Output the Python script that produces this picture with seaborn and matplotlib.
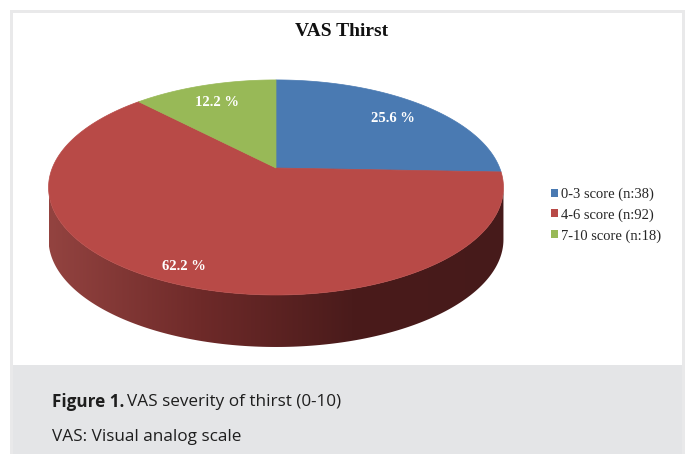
import numpy as np
import matplotlib
matplotlib.use("Agg")
import matplotlib.pyplot as plt
import seaborn as sns
from matplotlib.patches import Polygon, Rectangle, Patch
from matplotlib.colors import LinearSegmentedColormap

# data
categories = ["0-3 score (n:38)", "4-6 score (n:92)", "7-10 score (n:18)"]
percents = [25.6, 62.2, 12.2]
pct_labels = ["25.6 %", "62.2 %", "12.2 %"]
title = "VAS Thirst"

sns.set_theme(style="white")
plt.rcParams['font.family'] = ['Liberation Serif', 'DejaVu Serif']

slice_colors = ["#4a7ab2", "#b84a47", "#98b957"]

fig = plt.figure(figsize=(6.88, 4.54), dpi=100)
ax = fig.add_axes([0, 0, 1, 1])
ax.set_xlim(0, 688)
ax.set_ylim(454, 0)
ax.axis('off')

# frame + caption box
ax.add_patch(Rectangle((10, 10), 675, 444, facecolor="#e9e9ea", edgecolor="none", zorder=0))
ax.add_patch(Rectangle((13, 13), 669, 352, facecolor="white", edgecolor="none", zorder=0))
ax.add_patch(Rectangle((13, 365), 669, 89, facecolor="#e4e5e7", edgecolor="none", zorder=0))

# perspective projection of the pie disc (pixel space)
cx, cy = 276, 168
A, B, p = 223.7, 104.0, 0.181
depth = 52


def proj(t, r=1.0):
    u = r * np.cos(t)
    v = r * np.sin(t)
    w = 1 + p * v
    return cx + A * u / w, cy - B * v / w


# side of the disc (front half, only the red slice shows there)
t1 = np.pi + np.arcsin(p)
t2 = 2 * np.pi - np.arcsin(p)
ts = np.linspace(t1, t2, 200)
xs, ys = proj(ts)
side_pts = np.vstack([np.column_stack([xs, ys]),
                      np.column_stack([xs[::-1], ys[::-1] + depth])])
side = Polygon(side_pts, closed=True, facecolor="none", edgecolor="none", zorder=1)
ax.add_patch(side)
grad = LinearSegmentedColormap.from_list("side", ["#934340", "#6e2a29", "#4a1b1b", "#461a1a"])
img = ax.imshow(np.linspace(0, 1, 256).reshape(1, -1), cmap=grad, aspect='auto',
                extent=(xs.min(), xs.max(), ys.max() + depth + 2, ys.min() - 2), zorder=1)
img.set_clip_path(side)

# top face slices, clockwise from 12 o'clock
label_r = [0.8, 0.86, 0.8]
start = np.pi / 2
for pct, col, lab, r in zip(percents, slice_colors, pct_labels, label_r):
    span = pct / 100 * 2 * np.pi
    tt = np.linspace(start, start - span, 200)
    ax_, ay_ = proj(tt)
    pts = np.vstack([[cx, cy], np.column_stack([ax_, ay_])])
    ax.add_patch(Polygon(pts, closed=True, facecolor=col, edgecolor=col, lw=0.5, zorder=2))
    mid = start - span / 2
    lx, ly = proj(mid, r)
    ax.text(lx, ly + 3, lab, color="white", fontsize=10.5, fontweight="bold",
            ha="center", va="center", zorder=3)
    start -= span

ax.set_xlim(0, 688)
ax.set_ylim(454, 0)

ax.text(342, 32, title, fontsize=14, fontweight="bold", ha="center", va="center", color="#111111")

handles = [Patch(facecolor=c, edgecolor="none") for c in slice_colors]
ax.legend(handles, categories, loc="center left", bbox_to_anchor=(551, 215),
          bbox_transform=ax.transData, frameon=False, fontsize=10.5,
          handlelength=0.45, handleheight=0.45, handletextpad=0.25, labelspacing=0.5,
          borderpad=0, borderaxespad=0)

# caption
cap_font = ['Open Sans', 'DejaVu Sans']
t_bold = ax.text(52, 402, "Figure 1.", fontsize=12.3, fontweight="bold", family=cap_font,
                 color="#1e1e1e", va="center", ha="left")
fig.canvas.draw()
bb = t_bold.get_window_extent().transformed(ax.transData.inverted())
ax.text(bb.x1 + 3, 402, "VAS severity of thirst (0-10)", fontsize=12.3, family=cap_font,
        color="#1e1e1e", va="center", ha="left")
ax.text(52, 437, "VAS: Visual analog scale", fontsize=12.3, family=cap_font,
        color="#1e1e1e", va="center", ha="left")

fig.savefig("out.png", dpi=100)
